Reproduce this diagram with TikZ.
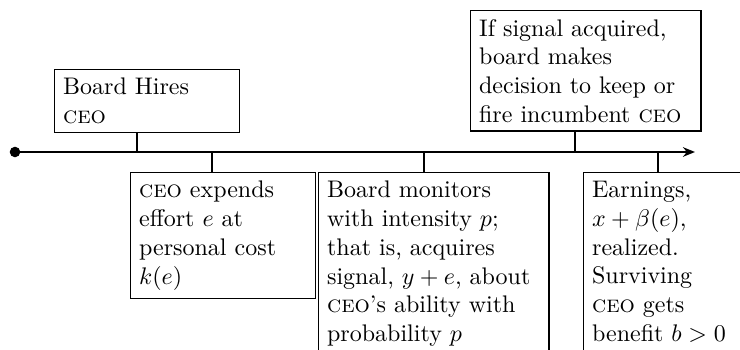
\documentclass[tikz,border=0pt]{standalone}
\usetikzlibrary{arrows.meta}

\tikzset{
  event/.style={draw, semithick, anchor=north west, align=left, inner sep=3.5pt},
  tick/.style={semithick},
}

\begin{document}
\begin{tikzpicture}[x=0.4167pt,y=-0.4167pt]
  \useasboundingbox (0,0) rectangle (740,350);
  \clip (0,0) rectangle (740,350);
  \coordinate (start) at (15,152);
  \coordinate (stop)  at (695,152);
  \coordinate (t1) at (137,152);
  \coordinate (t2) at (212,152);
  \coordinate (t3) at (424,152);
  \coordinate (t4) at (575,152);
  \coordinate (t5) at (658,152);
  \draw[line width=1.2pt,-{Stealth[length=5pt,width=4pt]}] (start) -- (stop);
  \fill (start) circle(2.2pt);
  \node[event, text width=70pt] (hire)    at ( 54, 69) {Board Hires\\ \textsc{ceo}};
  \node[event, text width=70pt] (effort)  at (130,172) {\textsc{ceo} expends\\ effort $e$ at\\ personal cost\\ $k(e)$};
  \node[event, text width=89pt] (monitor) at (318,172) {Board monitors\\ with intensity $p$;\\ that is, acquires\\ signal, $y+e$, about\\ \textsc{ceo}'s ability with\\ probability $p$};
  \node[event, text width=89pt] (decide)  at (470, 10) {If signal acquired,\\ board makes\\ decision to keep or\\ fire incumbent \textsc{ceo}};
  \node[event, text width=89pt] (earn)    at (583,172) {Earnings,\\ $x+\beta(e)$,\\ realized.\\ Surviving\\ \textsc{ceo} gets\\ benefit $b>0$};
  \draw[tick] (hire.south -| t1) -- (t1);
  \draw[tick] (effort.north -| t2) -- (t2);
  \draw[tick] (monitor.north -| t3) -- (t3);
  \draw[tick] (decide.south -| t4) -- (t4);
  \draw[tick] (earn.north -| t5) -- (t5);
\end{tikzpicture}
\end{document}
